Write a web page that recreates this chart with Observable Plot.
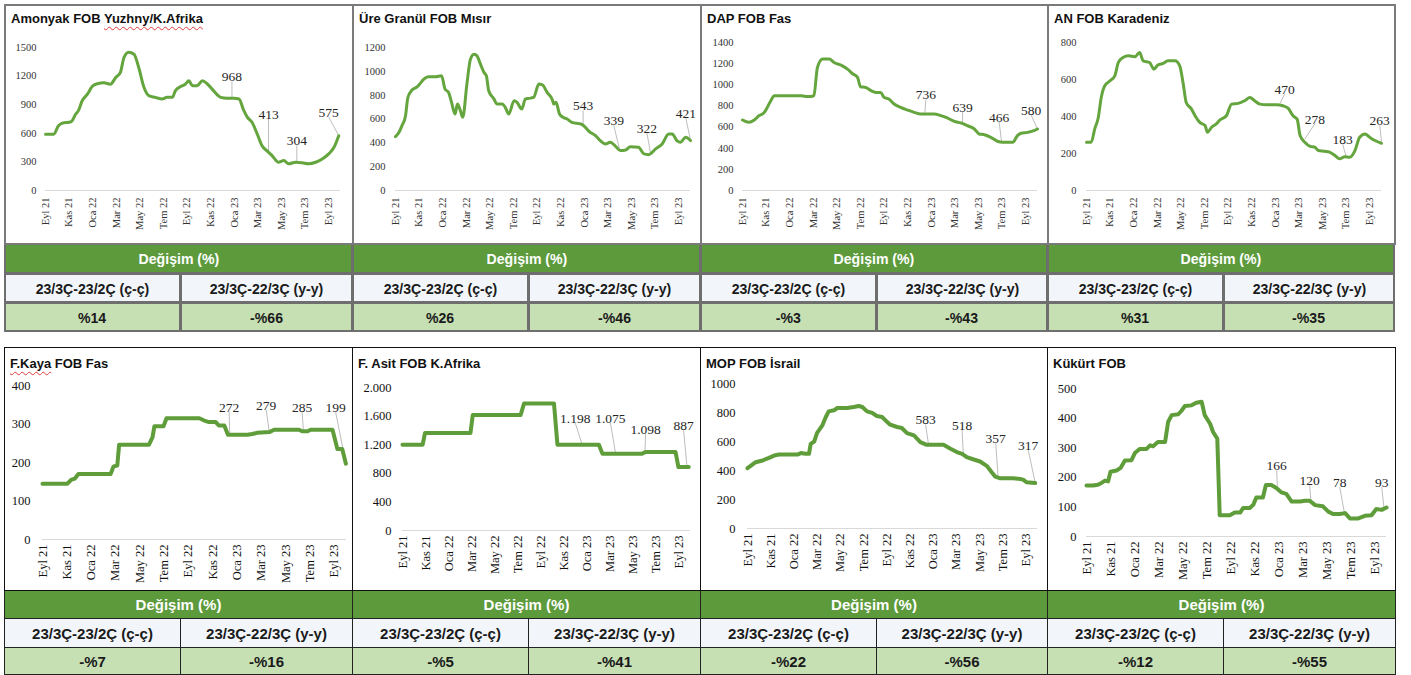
<!DOCTYPE html>
<html><head><meta charset="utf-8">
<script src="https://cdn.jsdelivr.net/npm/d3@7"></script>
<script src="https://cdn.jsdelivr.net/npm/@observablehq/plot@0.6"></script>
<style>
body{margin:0;background:#fff;width:1411px;height:675px;position:relative;overflow:hidden;font-family:"Liberation Sans",Arial,sans-serif}
.box{position:absolute;box-sizing:border-box}
.title{position:absolute;font-weight:bold;font-size:13px;line-height:13px;white-space:nowrap;color:#111}
.wavy{text-decoration:underline wavy #e03c3c;text-decoration-thickness:1px;text-underline-offset:3px}
.cell{position:absolute;box-sizing:border-box;display:flex;align-items:center;justify-content:center;font-weight:bold;font-size:15px;color:#1a1a1a;white-space:nowrap}
.cond{display:inline-block;transform:scaleX(0.94)}
svg{position:absolute}
</style></head><body>
<script>
// ---------- data ----------
const tickMonths = [0,2,4,6,8,10,12,14,16,18,20,22,24];
const xTickLabels = ["Eyl 21","Kas 21","Oca 22","Mar 22","May 22","Tem 22","Eyl 22","Kas 22","Oca 23","Mar 23","May 23","Tem 23","Eyl 23"];

const titles = ["Amonyak FOB Yuzhny/K.Afrika","Üre Granül FOB Mısır","DAP FOB Fas","AN FOB Karadeniz",
                "F.Kaya FOB Fas","F. Asit FOB K.Afrika","MOP FOB İsrail","Kükürt FOB"];
const changeHeader = "Değişim (%)";
const changeCols = ["23/3Ç-23/2Ç (ç-ç)","23/3Ç-22/3Ç (y-y)"];
const changeQoQ = ["%14","%26","-%3","%31","-%7","-%5","-%22","-%12"];
const changeYoY = ["-%66","-%46","-%43","-%35","-%16","-%41","-%56","-%55"];

// series: [months since Eyl 21, USD/ton]
const amonyak = [[0,590],[0.7,590],[1.1,680],[1.55,710],[2.0,715],[2.25,730],[2.55,800],[2.8,840],[3.1,940],[3.55,1010],[3.95,1090],[4.4,1120],[4.95,1130],[5.5,1115],[5.95,1185],[6.35,1240],[6.65,1395],[7.05,1450],[7.5,1430],[7.9,1290],[8.35,1080],[8.75,995],[9.3,977],[9.9,960],[10.3,977],[10.75,977],[11.0,1045],[11.45,1090],[11.85,1115],[12.15,1150],[12.45,1100],[12.85,1100],[13.3,1150],[13.7,1120],[14.25,1045],[14.85,977],[15.4,968],[15.95,968],[16.4,960],[16.8,840],[17.1,770],[17.5,715],[17.95,590],[18.35,470],[18.8,413],[19.2,366],[19.75,296],[20.2,314],[20.6,280],[21.2,296],[21.75,290],[22.3,280],[22.9,296],[23.45,331],[24.0,384],[24.45,453],[24.85,575]];
const ure = [[0,452],[0.3,488],[0.55,544],[0.85,628],[1.05,781],[1.4,843],[1.85,871],[2.1,899],[2.4,935],[2.8,955],[3.4,955],[3.9,963],[4.2,851],[4.5,823],[4.75,740],[5.05,642],[5.25,726],[5.5,670],[5.7,614],[6.05,893],[6.35,1102],[6.65,1144],[6.9,1130],[7.2,1060],[7.5,991],[7.7,963],[7.9,837],[8.35,767],[8.6,726],[9.05,726],[9.3,698],[9.6,642],[10.05,754],[10.3,740],[10.7,684],[11.0,767],[11.3,773],[11.7,781],[12.15,893],[12.45,887],[12.85,823],[13.3,759],[13.4,726],[13.6,740],[13.9,642],[14.2,614],[14.55,600],[14.95,572],[15.7,558],[15.95,544],[16.4,497],[16.95,460],[17.35,419],[17.8,391],[18.2,405],[18.65,371],[19.05,335],[19.5,340],[19.9,368],[20.6,363],[21.05,307],[21.45,301],[22.05,349],[22.6,391],[23.15,474],[23.45,474],[23.85,419],[24.15,405],[24.6,447],[25.0,419]];
const dap = [[0,667],[0.55,645],[1.0,667],[1.4,708],[1.85,739],[2.1,786],[2.4,849],[2.7,897],[4.95,897],[5.35,890],[5.8,890],[6.05,897],[6.35,1164],[6.8,1243],[7.35,1243],[7.75,1211],[8.35,1186],[8.9,1148],[9.3,1107],[9.75,1070],[10.0,981],[10.45,975],[10.9,944],[11.3,928],[11.7,928],[12.0,881],[12.4,865],[12.85,818],[13.4,786],[14.0,761],[14.55,739],[15.1,723],[16.25,723],[16.8,708],[17.35,686],[17.95,654],[18.5,639],[19.05,613],[19.65,582],[20.05,535],[20.5,528],[21.05,503],[21.6,466],[22.05,456],[22.9,456],[23.3,519],[23.6,541],[24.15,550],[24.7,566],[25.0,582]];
const an = [[0,261],[0.4,261],[0.7,333],[1.0,395],[1.25,503],[1.55,566],[2.0,593],[2.4,620],[2.7,692],[3.1,719],[3.55,728],[4.1,723],[4.5,746],[4.8,701],[5.35,692],[5.7,656],[6.05,678],[6.5,687],[6.9,701],[7.5,701],[7.9,674],[8.2,575],[8.45,476],[8.9,440],[9.2,404],[9.6,368],[10.05,351],[10.25,315],[10.6,342],[11.0,360],[11.3,381],[11.85,404],[12.3,467],[12.85,471],[13.4,485],[13.85,503],[14.25,485],[14.7,467],[15.25,464],[16.1,464],[16.65,458],[17.1,444],[17.5,404],[17.85,386],[18.1,297],[18.5,261],[18.95,239],[19.35,234],[19.65,216],[20.2,212],[20.6,207],[21.05,189],[21.45,171],[21.9,183],[22.3,180],[22.75,216],[23.15,288],[23.6,306],[24.0,288],[24.45,270],[25.0,255]];
const fkaya = [[0,145],[2.05,145],[2.35,155],[2.65,158],[2.95,170],[5.6,170],[5.85,190],[6.15,192],[6.3,246],[8.75,246],[9.05,266],[9.2,294],[9.95,294],[10.2,315],[12.9,315],[13.3,309],[13.7,305],[14.25,305],[14.5,296],[14.95,296],[15.25,272],[16.85,272],[17.25,274],[17.65,277],[18.65,279],[19.05,285],[21.1,285],[21.35,281],[21.8,281],[22.05,285],[23.85,285],[24.25,235],[24.65,235],[24.95,197]];
const fasit = [[0,1200],[1.75,1200],[1.95,1363],[5.9,1363],[6.1,1614],[10.25,1614],[10.55,1777],[13.15,1777],[13.45,1198],[17.05,1198],[17.35,1075],[20.8,1075],[21.1,1098],[23.7,1098],[23.95,887],[24.85,887]];
const mop = [[0,416],[0.3,434],[0.7,457],[1.3,469],[1.85,487],[2.3,503],[2.7,510],[4.3,510],[4.6,520],[5.0,515],[5.3,515],[5.45,584],[5.75,600],[6.0,660],[6.45,711],[6.75,769],[7.0,808],[7.45,815],[7.75,831],[8.6,831],[9.15,838],[9.6,845],[9.9,838],[10.3,808],[10.75,797],[11.15,776],[11.6,769],[12.05,734],[12.3,716],[12.9,700],[13.3,693],[13.75,658],[14.35,642],[14.9,596],[15.45,577],[16.9,577],[17.5,550],[18.05,527],[18.5,515],[18.9,492],[19.5,476],[20.05,462],[20.65,430],[21.05,388],[21.35,358],[21.8,346],[22.9,346],[23.5,342],[23.8,335],[24.05,319],[24.8,314]];
const kukurt = [[0,172],[0.55,172],[0.95,175],[1.25,181],[1.55,189],[1.8,186],[2.0,219],[2.5,223],[2.85,232],[3.2,257],[3.75,258],[4.05,283],[4.45,296],[5.0,296],[5.3,308],[5.55,305],[5.95,319],[6.55,319],[6.8,387],[7.1,410],[7.65,413],[7.9,424],[8.2,441],[8.75,443],[9.15,452],[9.6,455],[9.85,410],[10.3,381],[10.55,353],[10.9,330],[11.1,72],[11.95,72],[12.35,81],[12.8,81],[13.05,96],[13.6,96],[13.9,107],[14.15,132],[14.7,132],[14.95,174],[15.4,174],[15.85,163],[16.25,149],[16.65,144],[17.1,118],[17.8,118],[18.2,121],[18.6,121],[19.05,106],[19.7,102],[20.15,84],[20.55,76],[21.1,76],[21.55,79],[21.95,61],[22.65,61],[23.2,70],[23.75,72],[24.15,93],[24.6,90],[25.0,98]];

// point labels: [month, value at leader end, text]
const amonyakLabels = [[15.8,968,"968"],[18.9,413,"413"],[21.3,304,"304"],[24.85,575,"575"]];
const ureLabels = [[15.9,543,"543"],[19.0,339,"339"],[21.6,322,"322"],[25.0,421,"421"]];
const dapLabels = [[15.45,736,"736"],[18.65,639,"639"],[21.95,466,"466"],[25.0,580,"580"]];
const anLabels = [[16.4,470,"470"],[18.5,278,"278"],[22.0,183,"183"],[25.0,263,"263"]];
const fkayaLabels = [[15.4,272,"272"],[18.65,279,"279"],[21.45,285,"285"],[24.75,229,"199"]];
const fasitLabels = [[15.6,1198,"1.198"],[18.5,1075,"1.075"],[21.05,1098,"1.098"],[24.7,887,"887"]];
const mopLabels = [[15.6,583,"583"],[18.6,518,"518"],[21.6,357,"357"],[24.8,317,"317"]];
const kukurtLabels = [[15.9,166,"166"],[18.7,120,"120"],[21.5,78,"78"],[24.8,93,"93"]];

// where each label's text sits (bottom of text), in [month, value]
const amonyakLabelAt = [[15.8,1144],[18.9,753],[21.3,474],[24.0,771]];
const ureLabelAt = [[15.9,673],[18.5,547],[21.3,486],[24.6,611]];
const dapLabelAt = [[15.55,862],[18.65,742],[21.75,648],[24.45,717]];
const anLabelAt = [[16.8,523],[19.35,361],[21.7,253],[24.85,352]];
const fkayaLabelAt = [[15.35,332],[18.4,336],[21.35,332],[24.1,332]];
const fasitLabelAt = [[15.0,1502],[18.05,1502],[21.1,1353],[24.4,1400]];
const mopLabelAt = [[15.35,718],[18.5,679],[21.4,587],[24.2,540]];
const kukurtLabelAt = [[15.85,224],[18.6,173],[21.1,167],[24.6,167]];

const amonyakYTicks = [0,300,600,900,1200,1500];
const ureYTicks = [0,200,400,600,800,1000,1200];
const dapYTicks = [0,200,400,600,800,1000,1200,1400];
const anYTicks = [0,200,400,600,800];
const fkayaYTicks = [0,100,200,300,400];
const fasitYTicks = [0,400,800,1200,1600,2000];
const mopYTicks = [0,200,400,600,800,1000];
const kukurtYTicks = [0,100,200,300,400,500];

// ---------- layout (positions/styles) ----------
const panels = [
  {data:amonyak, labels:amonyakLabels, at:amonyakLabelAt, yTicks:amonyakYTicks, box:[4,5,348,237], m:[42,12,52,41], yPad:9, row:"top", wavy:"Yuzhny/K.Afrika"},
  {data:ure, labels:ureLabels, at:ureLabelAt, yTicks:ureYTicks, box:[352,5,348,237], m:[42,10,52,43], yPad:10, row:"top"},
  {data:dap, labels:dapLabels, at:dapLabelAt, yTicks:dapYTicks, box:[700,5,347,237], m:[37,10,52,42], yPad:9, row:"top"},
  {data:an, labels:anLabels, at:anLabelAt, yTicks:anYTicks, box:[1047,5,347,237], m:[37,13,52,39], yPad:10, row:"top"},
  {data:fkaya, labels:fkayaLabels, at:fkayaLabelAt, yTicks:fkayaYTicks, box:[4,348,348,242], m:[37,6,51,38], yPad:12, row:"bottom", wavy:"F.Kaya"},
  {data:fasit, labels:fasitLabels, at:fasitLabelAt, yTicks:fasitYTicks, box:[352,348,348,242], m:[39,10,60,50], yPad:11, row:"bottom", thousands:true},
  {data:mop, labels:mopLabels, at:mopLabelAt, yTicks:mopYTicks, box:[700,348,347,242], m:[35,10,62,47], yPad:12, row:"bottom"},
  {data:kukurt, labels:kukurtLabels, at:kukurtLabelAt, yTicks:kukurtYTicks, box:[1047,348,348,242], m:[40,9,54,39], yPad:10, row:"bottom"}
];
const serif = '"Liberation Serif","Times New Roman",serif';
const GREEN_HDR = "#5d9a3c", GREEN_VAL = "#c6e0b4", SUB_BG = "#f2f6fa";

function add(tag, cls, style, html){
  const el = document.createElement(tag);
  if (cls) el.className = cls;
  Object.assign(el.style, style);
  if (html != null) el.innerHTML = html;
  document.body.appendChild(el);
  return el;
}

panels.forEach((p, i) => {
  const top = p.row === "top";
  const [L, T, W, H] = p.box;
  const fmt = p.thousands ? (d => d3.format(",")(d).replace(/,/g, ".")) : (d => String(d));
  const chart = Plot.plot({
    width: W, height: H,
    marginTop: p.m[0], marginRight: p.m[1], marginBottom: p.m[2], marginLeft: p.m[3],
    x: {domain: [0, 25]},
    y: {domain: [0, p.yTicks[p.yTicks.length - 1]]},
    style: {fontFamily: serif, background: "transparent", color: top ? "#333" : "#111", overflow: "visible"},
    marks: [
      Plot.ruleY([0], {stroke: "#d9d9d9", strokeWidth: 1}),
      Plot.axisY(p.yTicks, {tickSize: 0, tickPadding: p.yPad, tickFormat: fmt, fontSize: top ? 10.5 : 12.5, fontFamily: serif}),
      Plot.axisX(tickMonths, {tickSize: 0, tickPadding: top ? 7 : 5, tickRotate: -90,
        tickFormat: d => xTickLabels[tickMonths.indexOf(d)], fontSize: top ? 10.5 : 12.5, fontFamily: serif}),
      Plot.link(p.labels, {x1: d => d[0], y1: d => d[1], x2: (d, j) => p.at[j][0], y2: (d, j) => p.at[j][1],
        stroke: "#bdbdbd", strokeWidth: 1}),
      Plot.line(p.data, {x: d => d[0], y: d => d[1], stroke: top ? "#64a53e" : "#5e9d39",
        strokeWidth: top ? 3 : 4, curve: top ? "monotone-x" : "linear", strokeLinejoin: "round"}),
      Plot.text(p.at, {x: d => d[0], y: d => d[1], text: (d, j) => p.labels[j][2], lineAnchor: "bottom",
        fontSize: 13.5, fill: "#262626", fontFamily: serif})
    ]
  });
  chart.style.left = L + "px";
  chart.style.top = T + "px";
  document.body.appendChild(chart);

  // title
  let t = titles[i];
  if (p.wavy) t = t.replace(p.wavy, `<span class="wavy">${p.wavy}</span>`);
  add("div", "title", {left: (L + (top ? 7 : 6)) + "px", top: (top ? 12 : 357) + "px"}, t);

  // tables
  const x0 = L, x1 = L + W;
  const xm = Math.round((x0 + x1) / 2) + 2;
  const rows = top ? [243, 273, 302, 331] : [590, 618, 647, 675];
  const bc = top ? "#6e6e6e" : "#222";
  const bw = top ? "2px" : "1px";
  const wrap = s => top ? `<span class="cond">${s}</span>` : s;
  add("div", "cell", {left: x0 + "px", top: rows[0] + "px", width: (x1 - x0 + 1) + "px", height: (rows[1] - rows[0] + 1) + "px",
    background: GREEN_HDR, color: "#fff", border: `${bw} solid ${bc}`}, wrap(changeHeader));
  [[x0, xm, changeCols[0], changeQoQ[i]], [xm, x1, changeCols[1], changeYoY[i]]].forEach(([a, b, h, v]) => {
    add("div", "cell", {left: a + "px", top: rows[1] + "px", width: (b - a + 1) + "px", height: (rows[2] - rows[1] + 1) + "px",
      background: SUB_BG, border: `${bw} solid ${bc}`}, wrap(h));
    add("div", "cell", {left: a + "px", top: rows[2] + "px", width: (b - a + 1) + "px", height: (rows[3] - rows[2] + (top ? 1 : 0)) + "px",
      background: GREEN_VAL, border: `${bw} solid ${bc}`}, wrap(v));
  });

  // chart frame
  if (top) {
    add("div", "box", {left: L + "px", top: "4px", width: (W + 2) + "px", height: "241px", border: "2px solid #7a7a7a", pointerEvents: "none"});
  } else {
    add("div", "box", {left: L + "px", top: "347px", width: (W + 1) + "px", height: "244px", border: "1px solid #111", pointerEvents: "none"});
  }
});
</script>
</body></html>
